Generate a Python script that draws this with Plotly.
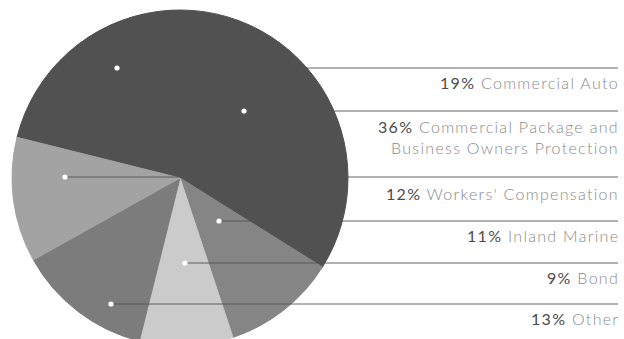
import plotly.graph_objects as go

# Premium mix by line of business (percent of total)
categories = [
    "Commercial Auto",
    "Commercial Package and Business Owners Protection",
    "Inland Marine",
    "Bond",
    "Other",
    "Workers' Compensation",
]
shares = [19, 36, 11, 9, 13, 12]
label_text = [
    "Commercial Auto",
    "Commercial Package and<br>Business Owners Protection",
    "Inland Marine",
    "Bond",
    "Other",
    "Workers' Compensation",
]

# Styling
W, H = 624, 356
slice_colors = ["#515151", "#515151", "#858585", "#cbcbcb", "#7c7c7c", "#a3a3a3"]

# Legend rows on the right: (category index, leader y, anchor dot x, text centre y)
rows = [
    (0, 68, 117, 83),
    (1, 111, 244, 137),
    (5, 177, 65, 193),
    (2, 221, 219, 235),
    (3, 263, 185, 277),
    (4, 304, 111, 318),
]
line_end_x = 618
text_right_x = 621
tracking = "letter-spacing:1.3px"


def px(x):
    return x / W


def py(y):
    return 1 - y / H


fig = go.Figure()
fig.add_trace(
    go.Pie(
        labels=categories,
        values=shares,
        sort=False,
        direction="clockwise",
        rotation=284,
        marker=dict(colors=slice_colors, line=dict(color=slice_colors, width=1)),
        textinfo="none",
        hoverinfo="label+percent",
        showlegend=False,
        domain=dict(x=[px(12), px(348)], y=[0, 1]),
    )
)

shapes = []
annotations = []
for idx, ly, dx, ty in rows:
    shapes.append(
        dict(
            type="line", xref="paper", yref="paper", layer="above",
            x0=px(dx), x1=px(line_end_x), y0=py(ly), y1=py(ly),
            line=dict(color="#525252", width=0.9),
        )
    )
    r = 2.6
    shapes.append(
        dict(
            type="circle", xref="paper", yref="paper", layer="above",
            x0=px(dx - r), x1=px(dx + r), y0=py(ly - r), y1=py(ly + r),
            fillcolor="white", line=dict(width=0),
        )
    )
    lines = label_text[idx].split("<br>")
    first = (
        f'<span style="color:#4a4a4a;font-weight:400;{tracking}">{shares[idx]}%</span>'
        f'<span style="{tracking}"> {lines[0]}</span>'
    )
    rest = [f'<span style="{tracking}">{ln}</span>' for ln in lines[1:]]
    annotations.append(
        dict(
            xref="paper", yref="paper", x=px(text_right_x), y=py(ty),
            xanchor="right", yanchor="middle", align="right", showarrow=False,
            text="<br>".join([first] + rest),
            font=dict(family="Lato", size=16, color="#8a8a8a", weight=300),
        )
    )

fig.update_layout(
    width=W,
    height=H,
    margin=dict(l=0, r=0, t=0, b=0),
    paper_bgcolor="white",
    plot_bgcolor="white",
    shapes=shapes,
    annotations=annotations,
)

fig.write_html(
    "out.html",
    config={"displayModeBar": False},
    post_script="document.documentElement.style.overflow='hidden';document.body.style.overflow='hidden';",
)
